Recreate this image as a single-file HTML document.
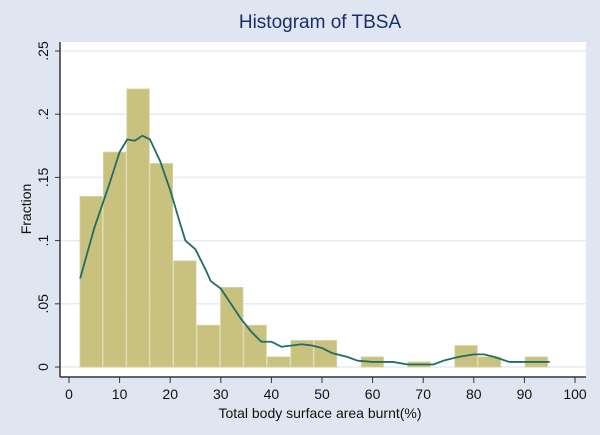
<!DOCTYPE html>
<html><head><meta charset="utf-8"><style>
body{margin:0;background:#e0e6f1;}
svg{display:block;font-family:"Liberation Sans",sans-serif;}
</style></head><body>
<svg id="c" width="600" height="435">
<rect width="600" height="435" fill="#e0e6f1"/>
<rect x="60" y="42" width="526" height="335" fill="#ffffff"/>
<text x="320" y="28" text-anchor="middle" font-size="19" fill="#1c2e6a">Histogram of TBSA</text>
<text x="320" y="418" text-anchor="middle" font-size="14" fill="#111">Total body surface area burnt(%)</text>
<text transform="translate(31,209) rotate(-90)" text-anchor="middle" font-size="14" fill="#111">Fraction</text>
<g id="grid"></g><g id="bars"></g><g id="curve"></g><g id="axes"></g>
</svg>
<script>
const binStart = 2.17;
const binWidth = 4.63;
const fractions = [0.135,0.17,0.22,0.161,0.084,0.033,0.063,0.033,0.008,0.021,0.021,0,0.008,0,0.004,0,0.017,0.008,0,0.008];
const curveX = [2.2,5,8,10,11.5,13,14.5,16,18,20,22,23,25,27,28,30,32,34,36,38,40,42,44,46,48,50,52,55,57,60,64,67,70,72,74,77,80,82,84,87,90,93,95];
const curveY = [0.07,0.11,0.145,0.17,0.18,0.179,0.183,0.18,0.163,0.14,0.113,0.1,0.093,0.077,0.068,0.062,0.05,0.038,0.028,0.02,0.02,0.016,0.017,0.018,0.017,0.015,0.011,0.008,0.005,0.004,0.004,0.002,0.002,0.002,0.005,0.008,0.01,0.01,0.008,0.004,0.004,0.004,0.004];
const xTicks = [0,10,20,30,40,50,60,70,80,90,100];
const yTicks = [0,0.05,0.1,0.15,0.2,0.25];
const yTickLabels = ["0",".05",".1",".15",".2",".25"];
const NS="http://www.w3.org/2000/svg";
const sx=v=>69+v*5.06, sy=v=>367-v*1264;
function mk(t,a,p){const e=document.createElementNS(NS,t);for(const k in a)e.setAttribute(k,a[k]);document.getElementById(p).appendChild(e);return e;}
yTicks.forEach((t,i)=>{
 const g=mk('line',{x1:60,x2:586,y1:sy(t),y2:sy(t),stroke:'#e6eaf3','stroke-width':1.5},'grid');
 
 
 const tk=mk('line',{x1:55,x2:60,y1:sy(t),y2:sy(t),stroke:'#333'},'axes');
 
 
 const tx=mk('text',{transform:`translate(48,${sy(t)}) rotate(-90)`,'text-anchor':'middle','font-size':14,fill:'#111'},'axes');
 tx.textContent=yTickLabels[i];
 
 
});
fractions.forEach((f,i)=>{
 if(f<=0)return;
 const x0=sx(binStart+i*binWidth), x1=sx(binStart+(i+1)*binWidth);
 const r=mk('rect',{x:x0,y:sy(f),width:x1-x0-1,height:sy(0)-sy(f),fill:'#c9c27e',stroke:'#d8d3a0','stroke-width':0.8},'bars');
 
 
});
const p=mk('path',{d:curveX.map((x,i)=>(i?'L':'M')+sx(x)+','+sy(curveY[i])).join(''),fill:'none',stroke:'#1f6e66','stroke-width':1.8,'stroke-linejoin':'round'},'curve');


const ax=mk('line',{x1:60,x2:586,y1:377,y2:377,stroke:'#333','stroke-width':1.5},'axes');


const ay=mk('line',{x1:60,x2:60,y1:42,y2:377,stroke:'#333','stroke-width':1.5},'axes');


xTicks.forEach(t=>{
 const tk=mk('line',{x1:sx(t),x2:sx(t),y1:377,y2:383,stroke:'#333'},'axes');
 
 
 const tx=mk('text',{x:sx(t),y:399,'text-anchor':'middle','font-size':14,fill:'#111'},'axes');
 tx.textContent=t;
 
 
});
</script>
</body></html>
